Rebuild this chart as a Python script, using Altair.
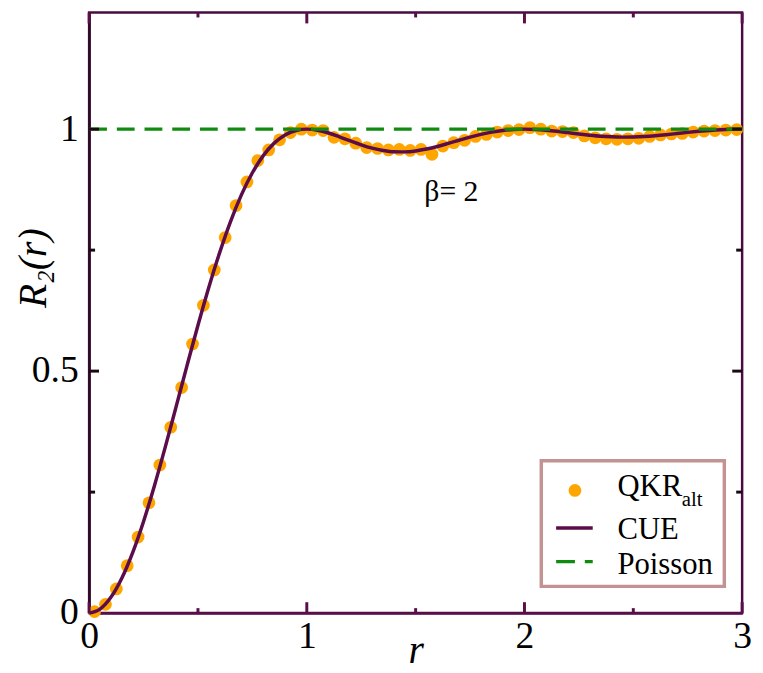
import altair as alt
import pandas as pd

# ---------------- data ----------------
qkr_r = [0.025, 0.075, 0.125, 0.175, 0.225, 0.275, 0.325, 0.375, 0.425, 0.475,
         0.525, 0.575, 0.625, 0.675, 0.725, 0.775, 0.825, 0.875, 0.925, 0.975,
         1.025, 1.075, 1.125, 1.175, 1.225, 1.275, 1.325, 1.375, 1.425, 1.475,
         1.525, 1.575, 1.625, 1.675, 1.725, 1.775, 1.825, 1.875, 1.925, 1.975,
         2.025, 2.075, 2.125, 2.175, 2.225, 2.275, 2.325, 2.375, 2.425, 2.475,
         2.525, 2.575, 2.625, 2.675, 2.725, 2.775, 2.825, 2.875, 2.925, 2.975]
qkr_R = [0.003, 0.018, 0.050, 0.098, 0.157, 0.228, 0.306, 0.384, 0.466, 0.556,
         0.636, 0.709, 0.776, 0.842, 0.891, 0.935, 0.957, 0.978, 0.993, 1.000,
         0.998, 0.997, 0.983, 0.980, 0.971, 0.962, 0.960, 0.957, 0.958, 0.956,
         0.958, 0.948, 0.965, 0.972, 0.977, 0.985, 0.989, 0.994, 0.997, 0.999,
         1.003, 1.000, 0.996, 0.995, 0.993, 0.986, 0.982, 0.980, 0.979, 0.980,
         0.981, 0.985, 0.988, 0.990, 0.991, 0.994, 0.996, 0.997, 0.998, 0.999]

cue_r = [0.00, 0.05, 0.10, 0.15, 0.20, 0.25, 0.30, 0.35, 0.40, 0.45,
         0.50, 0.55, 0.60, 0.65, 0.70, 0.75, 0.80, 0.85, 0.90, 0.95,
         1.00, 1.05, 1.10, 1.15, 1.20, 1.25, 1.30, 1.35, 1.40, 1.45,
         1.50, 1.55, 1.60, 1.65, 1.70, 1.75, 1.80, 1.85, 1.90, 1.95,
         2.00, 2.05, 2.10, 2.15, 2.20, 2.25, 2.30, 2.35, 2.40, 2.45,
         2.50, 2.55, 2.60, 2.65, 2.70, 2.75, 2.80, 2.85, 2.90, 2.95, 3.00]
cue_R = [0.0000, 0.0082, 0.0325, 0.0719, 0.1249, 0.1894, 0.2632, 0.3434, 0.4272, 0.5119,
         0.5947, 0.6733, 0.7454, 0.8096, 0.8647, 0.9099, 0.9453, 0.9711, 0.9881, 0.9973,
         1.0000, 0.9978, 0.9920, 0.9842, 0.9757, 0.9676, 0.9608, 0.9559, 0.9532, 0.9530,
         0.9550, 0.9589, 0.9642, 0.9705, 0.9771, 0.9835, 0.9892, 0.9939, 0.9973, 0.9993,
         1.0000, 0.9994, 0.9978, 0.9955, 0.9928, 0.9900, 0.9875, 0.9854, 0.9841, 0.9835,
         0.9838, 0.9848, 0.9864, 0.9885, 0.9909, 0.9933, 0.9955, 0.9974, 0.9989, 0.9997, 1.0000]

poisson_r = [0.0, 3.0]
poisson_R = [1.0, 1.0]

series_labels = ["QKR", "CUE", "Poisson"]
qkr_subscript = ["alt"]
annotation = ["β= 2"]

x_tick_labels = [0, 1, 2, 3]
y_tick_labels = [0, 0.5, 1]
x_major_ticks = [0, 1, 2, 3]
x_minor_ticks = [0.5, 1.5, 2.5]
y_major_ticks = [0.5, 1.0]
y_minor_ticks = [0.25, 0.75]

# ---------------- styling ----------------
W, H = 660, 607
SERIF = "Liberation Serif, DejaVu Serif, serif"
ORANGE = "#FFA500"
PURPLE = "#5b0c4b"
GREEN = "#0f8c0f"
FRAME_X = "#5a0f4c"
FRAME_Y = "#2b0a25"
DOT = 165

x_scale = alt.Scale(domain=[0, 3], nice=False, zero=False)
y_scale = alt.Scale(domain=[0, 1.241], nice=False, zero=False)

x_axis = alt.Axis(values=x_tick_labels, format="~g", ticks=False, grid=False,
                  domainColor=FRAME_X, domainWidth=2.5,
                  labelFont=SERIF, labelFontSize=38, labelColor="black",
                  labelPadding=5, labelFlush=False,
                  title="r", titleFont=SERIF, titleFontStyle="italic",
                  titleFontSize=40, titleFontWeight="normal", titleColor="black",
                  titleY=50, titleBaseline="alphabetic")
y_axis = alt.Axis(values=y_tick_labels, format="~g", ticks=False, grid=False,
                  domainColor=FRAME_Y, domainWidth=2.5,
                  labelFont=SERIF, labelFontSize=38, labelColor="black",
                  labelPadding=11, labelFlush=False,
                  title="R₂(r)", titleFont=SERIF, titleFontStyle="italic",
                  titleFontSize=40, titleFontWeight="normal", titleColor="black",
                  titleAngle=270, titleX=-44, titleY=258, titleAlign="center",
                  titleBaseline="alphabetic")

def X(field):
    return alt.X(field, type="quantitative", scale=x_scale, axis=x_axis)

def Y(field):
    return alt.Y(field, type="quantitative", scale=y_scale, axis=y_axis)

qkr_df = pd.DataFrame({"r": qkr_r, "R": qkr_R})
cue_df = pd.DataFrame({"r": cue_r, "R": cue_R})
poi_df = pd.DataFrame({"r": poisson_r, "R": poisson_R})

dots = alt.Chart(qkr_df).mark_circle(size=DOT, color=ORANGE, opacity=1).encode(
    x=X("r"), y=Y("R"))
cue = alt.Chart(cue_df).mark_line(color=PURPLE, strokeWidth=3.5,
                                  interpolate="monotone").encode(x=X("r"), y=Y("R"))
poisson = alt.Chart(poi_df).mark_line(color=GREEN, strokeWidth=3.2,
                                      strokeDash=[18, 10]).encode(x=X("r"), y=Y("R"))

# inward ticks on all four sides
def xticks(vals, length):
    df = pd.DataFrame({"t": vals})
    bot = alt.Chart(df).mark_rule(color=FRAME_X, strokeWidth=3).encode(
        x=X("t"), y=alt.value(H), y2=alt.value(H - length))
    top = alt.Chart(df).mark_rule(color=FRAME_X, strokeWidth=3).encode(
        x=X("t"), y=alt.value(0), y2=alt.value(length))
    return [bot, top]

def yticks(vals, length):
    df = pd.DataFrame({"t": vals})
    left = alt.Chart(df).mark_rule(color="#1a0a14", strokeWidth=3).encode(
        y=Y("t"), x=alt.value(0), x2=alt.value(length))
    right = alt.Chart(df).mark_rule(color="#1a0a14", strokeWidth=3).encode(
        y=Y("t"), x=alt.value(W), x2=alt.value(W - length))
    return [left, right]

tick_layers = (xticks(x_major_ticks, 11) + xticks(x_minor_ticks, 5)
               + yticks(y_major_ticks, 10) + yticks(y_minor_ticks, 6))

ann = alt.Chart(pd.DataFrame({"label": annotation})).mark_text(
    font=SERIF, fontSize=30, color="black", align="left", baseline="middle").encode(
    x=alt.X(datum=1.54, type="quantitative", scale=x_scale, axis=x_axis),
    y=alt.Y(datum=0.87, type="quantitative", scale=y_scale, axis=y_axis),
    text="label:N")

# ---------------- legend box ----------------
one = pd.DataFrame({"k": [0]})
leg_box = alt.Chart(one).mark_rect(fill="white", stroke="#c39393", strokeWidth=3.5).encode(
    x=alt.value(457), x2=alt.value(642), y=alt.value(453), y2=alt.value(580))
leg_dot = alt.Chart(one).mark_circle(size=DOT, color=ORANGE, opacity=1).encode(
    x=alt.value(491), y=alt.value(483))
leg_line = alt.Chart(one).mark_rule(color=PURPLE, strokeWidth=3.5).encode(
    x=alt.value(472), x2=alt.value(509), y=alt.value(521))
leg_dash = alt.Chart(one).mark_rule(color=GREEN, strokeWidth=3.2, strokeDash=[19, 10]).encode(
    x=alt.value(472), x2=alt.value(509), y=alt.value(555))

def leg_text(label, y, size=31, x=534):
    return alt.Chart(pd.DataFrame({"label": [label]})).mark_text(
        font=SERIF, fontSize=size, color="black", align="left",
        baseline="alphabetic").encode(x=alt.value(x), y=alt.value(y), text="label:N")

leg_layers = [leg_box, leg_dot, leg_line, leg_dash,
              leg_text(series_labels[0], 489),
              leg_text(qkr_subscript[0], 499, size=21, x=599),
              leg_text(series_labels[1], 532),
              leg_text(series_labels[2], 567)]

chart = alt.layer(dots, cue, poisson, ann, *tick_layers, *leg_layers).properties(
    width=W, height=H,
    autosize=alt.AutoSizeParams(type="none"),
    padding={"left": 82, "top": 1, "right": 13, "bottom": 57},
).configure_view(stroke="#4a0c3e", strokeWidth=2.5)

chart.save("out.html", embed_options={"renderer": "svg", "actions": False})
